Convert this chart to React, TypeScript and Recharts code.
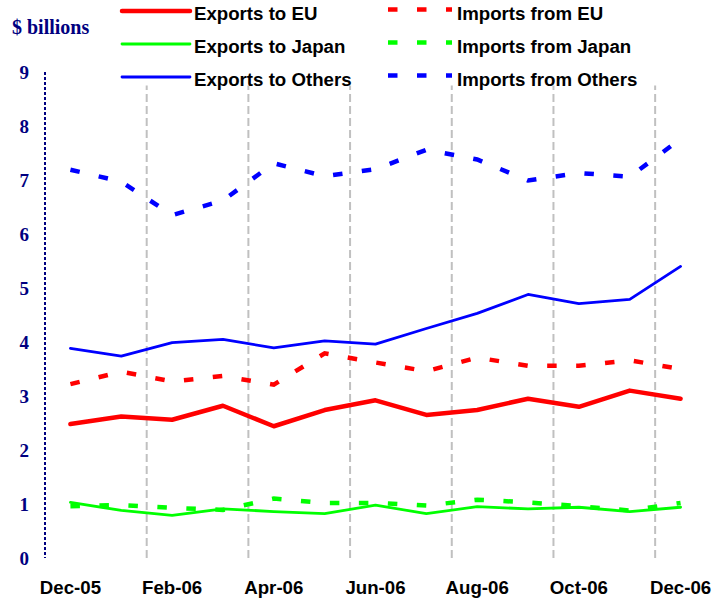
import { LineChart, Line, XAxis, YAxis, ReferenceLine, Legend } from 'recharts';

const months = [
  'Dec-05', 'Jan-06', 'Feb-06', 'Mar-06', 'Apr-06', 'May-06', 'Jun-06',
  'Jul-06', 'Aug-06', 'Sep-06', 'Oct-06', 'Nov-06', 'Dec-06',
];

const exportsEU = [2.48, 2.62, 2.56, 2.82, 2.44, 2.74, 2.92, 2.65, 2.74, 2.95, 2.8, 3.1, 2.95];
const importsEU = [3.22, 3.45, 3.27, 3.37, 3.21, 3.79, 3.62, 3.46, 3.71, 3.56, 3.56, 3.66, 3.5];
const exportsJapan = [1.03, 0.88, 0.79, 0.91, 0.86, 0.82, 0.98, 0.82, 0.95, 0.91, 0.94, 0.86, 0.94];
const importsJapan = [0.96, 0.98, 0.93, 0.89, 1.1, 1.02, 1.02, 0.97, 1.08, 1.03, 0.96, 0.88, 1.02];
const exportsOthers = [3.88, 3.74, 3.99, 4.05, 3.89, 4.02, 3.96, 4.25, 4.53, 4.88, 4.71, 4.79, 5.4];
const importsOthers = [7.19, 6.97, 6.35, 6.62, 7.31, 7.07, 7.2, 7.56, 7.38, 6.99, 7.13, 7.06, 7.76];

const labelTicks = [0, 2, 4, 6, 8, 10, 12];
const yTicks = [0, 1, 2, 3, 4, 5, 6, 7, 8, 9];
// dashed guides sit on the boundary just before each labelled month
const gridBoundaries = labelTicks.slice(1).map((t) => t - 0.5);

const data = months.map((month, idx) => ({
  idx,
  month,
  exportsEU: exportsEU[idx],
  importsEU: importsEU[idx],
  exportsJapan: exportsJapan[idx],
  importsJapan: importsJapan[idx],
  exportsOthers: exportsOthers[idx],
  importsOthers: importsOthers[idx],
}));

type SeriesDef = { key: string; name: string; color: string; width: number };

const exportSeries: SeriesDef[] = [
  { key: 'exportsEU', name: 'Exports to EU', color: '#ff0000', width: 4.5 },
  { key: 'exportsJapan', name: 'Exports to Japan', color: '#00ff00', width: 2.8 },
  { key: 'exportsOthers', name: 'Exports to Others', color: '#0000ff', width: 2.8 },
];

const importSeries: SeriesDef[] = [
  { key: 'importsEU', name: 'Imports from EU', color: '#ff0000', width: 4.5 },
  { key: 'importsJapan', name: 'Imports from Japan', color: '#00ff00', width: 4.5 },
  { key: 'importsOthers', name: 'Imports from Others', color: '#0000ff', width: 4.5 },
];

const DASH = '9.5 19.5';
const sansBold = { fontFamily: '"Liberation Sans", Arial, sans-serif', fontWeight: 700, fontSize: 18.67 };
const serifBold = { fontFamily: '"Liberation Serif", "Times New Roman", serif', fontWeight: 700 };

const rowY = [11, 44, 77];

const LegendBlock = () => (
  <svg width={721} height={95} style={{ display: 'block' }}>
    {exportSeries.map((s, i) => (
      <g key={s.key}>
        <line x1={122} x2={190} y1={rowY[i]} y2={rowY[i]} stroke={s.color} strokeWidth={s.width} strokeLinecap="round" />
        <text x={194} y={rowY[i] + 8.5} fill="#000" style={sansBold}>{s.name}</text>
      </g>
    ))}
    {importSeries.map((s, i) => (
      <g key={s.key}>
        <line x1={388} x2={452} y1={rowY[i] - 1.5} y2={rowY[i] - 1.5} stroke={s.color} strokeWidth={s.width} strokeDasharray={DASH} />
        <text x={457} y={rowY[i] + 8.5} fill="#000" style={sansBold}>{s.name}</text>
      </g>
    ))}
  </svg>
);

const UnitLabel = (props: any) => {
  const { viewBox } = props;
  return (
    <text x={12} y={viewBox.y - 38} fill="#000080" fontSize={20} style={serifBold}>
      $ billions
    </text>
  );
};

export default function App() {
  return (
    <div style={{ position: 'absolute', left: 0, top: 0, background: '#fff' }}>
      <LineChart width={721} height={604} data={data} margin={{ top: 72, right: 15, bottom: 0, left: 0 }}>
        <Legend
          layout="horizontal"
          verticalAlign="middle"
          align="center"
          wrapperStyle={{ left: 0, top: 0, width: 721, height: 95 }}
          content={() => <LegendBlock />}
        />
        <XAxis
          type="number"
          dataKey="idx"
          domain={[-0.5, 12.5]}
          ticks={labelTicks}
          interval={0}
          tickFormatter={(i: number) => months[i]}
          axisLine={false}
          tickLine={false}
          tickSize={0}
          tickMargin={23}
          height={46}
          tick={{ ...sansBold, fill: '#000' }}
        />
        <YAxis
          domain={[0, 9]}
          ticks={yTicks}
          interval={0}
          width={45}
          tickLine={false}
          tickSize={0}
          tickMargin={16}
          axisLine={{ stroke: '#000080', strokeWidth: 2, strokeDasharray: '3 2' }}
          tick={{ ...serifBold, fontSize: 19, fill: '#000080' }}
          label={<UnitLabel />}
        />
        {gridBoundaries.map((b) => (
          <ReferenceLine
            key={b}
            segment={[{ x: b, y: 0 }, { x: b, y: 8.75 }]}
            stroke="#c0c0c0"
            strokeWidth={2}
            strokeDasharray="8 4"
          />
        ))}
        {importSeries.map((s) => (
          <Line
            key={s.key}
            type="linear"
            dataKey={s.key}
            name={s.name}
            stroke={s.color}
            strokeWidth={s.width}
            strokeDasharray={DASH}
            dot={false}
            activeDot={false}
            isAnimationActive={false}
          />
        ))}
        {exportSeries.map((s) => (
          <Line
            key={s.key}
            type="linear"
            dataKey={s.key}
            name={s.name}
            stroke={s.color}
            strokeWidth={s.width}
            strokeLinecap="round"
            strokeLinejoin="round"
            dot={false}
            activeDot={false}
            isAnimationActive={false}
          />
        ))}
      </LineChart>
    </div>
  );
}
